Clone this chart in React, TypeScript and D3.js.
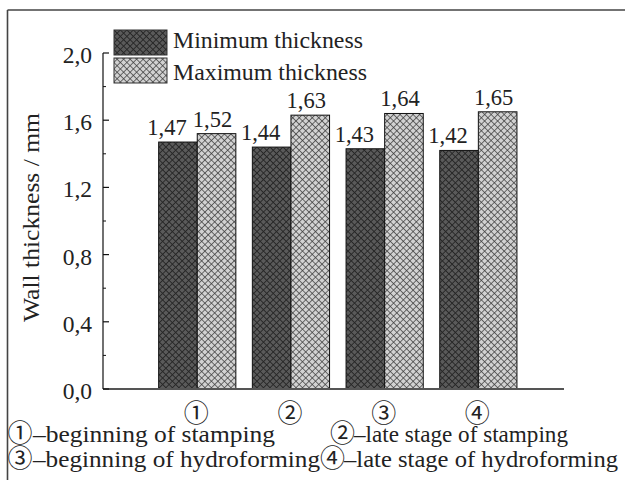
import React from "react";
import * as d3 from "d3";

const categories = ["①", "②", "③", "④"];
const seriesNames = ["Minimum thickness", "Maximum thickness"];
const minThickness = [1.47, 1.44, 1.43, 1.42];
const maxThickness = [1.52, 1.63, 1.64, 1.65];
const yTicks = [0, 0.4, 0.8, 1.2, 1.6, 2.0];
const yMinorTicks = [0.2, 0.6, 1.0, 1.4, 1.8];
const notes = [
  { mark: "①", text: "–beginning of stamping" },
  { mark: "②", text: "–late stage of stamping" },
  { mark: "③", text: "–beginning of hydroforming" },
  { mark: "④", text: "–late stage of hydroforming" },
];

const W = 625;
const H = 485;
const FONT = "Liberation Serif";
const CIRC_FONT = "Noto Sans CJK JP";

const fmt = (v: number) => v.toFixed(2).replace(".", ",");
const fmtTick = (v: number) => v.toFixed(1).replace(".", ",");

export default function App() {
  const y = d3.scaleLinear().domain([0, 2]).range([389, 53]);
  const x = d3.scaleBand<string>().domain(categories).range([150.4, 525.2]).padding(0);
  const barW = 38.6;
  const inner = d3
    .scaleBand<string>()
    .domain(seriesNames)
    .range([0, barW * 2])
    .padding(0);
  const series = [minThickness, maxThickness];
  const fills = ["url(#patMin)", "url(#patMax)"];
  const labelDx = [-11, -4];
  const axisLeft = 103;
  const axisRight = 564;

  const noteLayout = [
    { cx: 20, tx: 33, base: 442, len: 242 },
    { cx: 342.5, tx: 354, base: 442, len: 214 },
    { cx: 20, tx: 33, base: 467, len: 287 },
    { cx: 332.5, tx: 344, base: 467, len: 274 },
  ];

  const txt = { fontFamily: FONT };
  const circ = { fontFamily: CIRC_FONT };

  return (
    <svg
      width={W}
      height={H}
      style={{ position: "absolute", left: 0, top: 0, background: "#fff", fontFamily: FONT }}
    >
      <defs>
        <pattern id="patMin" width="4.6" height="4.6" patternUnits="userSpaceOnUse" patternTransform="rotate(45)">
          <rect width="4.6" height="4.6" fill="#5a5a5a" />
          <line x1="0" y1="0" x2="4.6" y2="0" stroke="#262626" strokeWidth="1.8" />
          <line x1="0" y1="0" x2="0" y2="4.6" stroke="#262626" strokeWidth="1.8" />
        </pattern>
        <pattern id="patMax" width="4.6" height="4.6" patternUnits="userSpaceOnUse" patternTransform="rotate(45)">
          <rect width="4.6" height="4.6" fill="#d2d2d2" />
          <line x1="0" y1="0" x2="4.6" y2="0" stroke="#3a3a3a" strokeWidth="1.4" />
          <line x1="0" y1="0" x2="0" y2="4.6" stroke="#3a3a3a" strokeWidth="1.4" />
        </pattern>
      </defs>

      {/* frame */}
      <line x1={7.5} y1={10} x2={W} y2={10} stroke="#444" strokeWidth={1.6} />
      <line x1={7.5} y1={10} x2={7.5} y2={480} stroke="#444" strokeWidth={1.6} />

      {/* bars */}
      {categories.map((c, i) => {
        const gx = (x(c) as number) + x.bandwidth() / 2 - barW;
        return (
          <g key={c}>
            {series.map((vals, s) => {
              const bx = gx + (inner(seriesNames[s]) as number);
              const by = y(vals[i]);
              return (
                <g key={s}>
                  <rect
                    x={bx}
                    y={by}
                    width={inner.bandwidth()}
                    height={y(0) - by}
                    fill={fills[s]}
                    stroke="#111"
                    strokeWidth={1}
                  />
                  <text
                    x={bx + inner.bandwidth() / 2 + labelDx[s]}
                    y={by - 7}
                    textAnchor="middle"
                    fontSize={22.5}
                    fill="#222"
                    style={txt}
                  >
                    {fmt(vals[i])}
                  </text>
                </g>
              );
            })}
            <text
              x={(x(c) as number) + x.bandwidth() / 2 - 1}
              y={422}
              textAnchor="middle"
              fontSize={25}
              fill="#222"
              style={circ}
            >
              {c}
            </text>
          </g>
        );
      })}

      {/* x axis */}
      <line x1={axisLeft} y1={y(0)} x2={axisRight} y2={y(0)} stroke="#555" strokeWidth={2} />

      {/* y axis */}
      <line x1={axisLeft} y1={y(2)} x2={axisLeft} y2={y(0)} stroke="#111" strokeWidth={1.2} />
      {yTicks.map((t) => (
        <g key={t}>
          <line x1={axisLeft} y1={y(t)} x2={axisLeft + 6} y2={y(t)} stroke="#111" strokeWidth={1.2} />
          <text x={92} y={y(t) + 10} textAnchor="end" fontSize={23.5} fill="#222" style={txt}>
            {fmtTick(t)}
          </text>
        </g>
      ))}
      {yMinorTicks.map((t) => (
        <line key={t} x1={axisLeft} y1={y(t)} x2={axisLeft + 3} y2={y(t)} stroke="#111" strokeWidth={1} />
      ))}
      <text
        transform={`translate(39, 217.5) rotate(-90)`}
        textAnchor="middle"
        fontSize={23}
        fill="#222"
        textLength={209}
        lengthAdjust="spacingAndGlyphs"
        style={txt}
      >
        Wall thickness / mm
      </text>

      {/* legend */}
      {seriesNames.map((n, s) => (
        <g key={n}>
          <rect x={114} y={30 + s * 28} width={53} height={25} fill={fills[s]} stroke="#333" strokeWidth={1} />
          <text
            x={173}
            y={48 + s * 32}
            fontSize={23.5}
            fill="#222"
            textLength={s === 0 ? 190 : 194}
            lengthAdjust="spacingAndGlyphs"
            style={txt}
          >
            {n}
          </text>
        </g>
      ))}

      {/* notes */}
      {notes.map((nt, i) => {
        const L = noteLayout[i];
        return (
          <g key={i}>
            <text x={L.cx} y={L.base} textAnchor="middle" fontSize={25} fill="#222" style={circ}>
              {nt.mark}
            </text>
            <text
              x={L.tx}
              y={L.base}
              fontSize={23.5}
              fill="#222"
              textLength={L.len}
              lengthAdjust="spacingAndGlyphs"
              style={txt}
            >
              {nt.text}
            </text>
          </g>
        );
      })}
    </svg>
  );
}
